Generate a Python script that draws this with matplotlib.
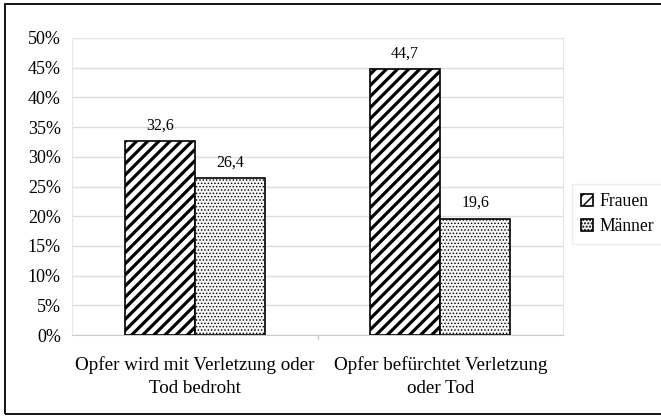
import matplotlib
matplotlib.use("Agg")
import matplotlib.pyplot as plt
import matplotlib.patches as mpatches
import numpy as np

categories = ["Opfer wird mit Verletzung oder\nTod bedroht", "Opfer befürchtet Verletzung\noder Tod"]
series_names = ["Frauen", "Männer"]
frauen = [32.6, 44.7]
maenner = [26.4, 19.6]
yticks = [0, 5, 10, 15, 20, 25, 30, 35, 40, 45, 50]

plt.rcParams['font.family'] = ['Liberation Serif', 'DejaVu Serif']
plt.rcParams['font.size'] = 12

fig = plt.figure(figsize=(6.61, 4.18), dpi=100)
fig.patches.append(mpatches.Rectangle((5/661, 4/418), 1.2, 1 - 8/418, transform=fig.transFigure,
                                      fill=False, edgecolor='black', linewidth=1.3))
ax = fig.add_axes([72/661, 83/418, 491/661, 297/418])

x = np.arange(len(categories))
bw = 1 / 3.5
with plt.rc_context({'hatch.linewidth': 2.3}):
    b1 = ax.bar(x - bw/2, frauen, bw, facecolor='white', edgecolor='black', hatch='///', linewidth=1.2,
                label=series_names[0], zorder=3)
with plt.rc_context({'hatch.linewidth': 0.6}):
    b2 = ax.bar(x + bw/2, maenner, bw, facecolor='#f4f4f4', edgecolor='black', hatch='.....', linewidth=1.2,
                label=series_names[1], zorder=3)
for bars, hl in ((b1, 2.3), (b2, 0.6)):
    for r in bars:
        try:
            r.set_hatch_linewidth(hl)
        except Exception:
            pass

for bars, vals in ((b1, frauen), (b2, maenner)):
    for r, v in zip(bars, vals):
        ax.text(r.get_x() + r.get_width()/2, v + 1.3, f"{v:.1f}".replace('.', ','),
                ha='center', va='bottom', fontsize=11.5)

ax.set_xlim(-0.5, 1.5)
ax.set_ylim(0, 50)
ax.set_yticks(yticks)
ax.set_yticklabels([f"{t}%" for t in yticks], fontsize=13)
ax.set_xticks(x)
ax.set_xticklabels(categories, fontsize=13.7, linespacing=1.45)
ax.tick_params(axis='x', length=0, pad=15)
ax.tick_params(axis='y', length=0, pad=8)
ax.grid(axis='y', color='#dddddd', linewidth=1, zorder=0)
for s in ax.spines.values():
    s.set_color('#e6e6e6')
ax.spines['bottom'].set_color('#cccccc')
ax.axvline(0.5, ymin=-0.015, ymax=0, color='#cccccc', linewidth=1, clip_on=False)

leg = fig.legend(handles=[b1, b2], labels=series_names, loc='center left',
                 bbox_to_anchor=(572/661, 204/418), frameon=True, fancybox=False,
                 edgecolor='#e6e6e6', handlelength=0.7, handleheight=0.7, handletextpad=0.35,
                 borderpad=0.5, labelspacing=0.45, fontsize=12.7, borderaxespad=0)
leg.get_frame().set_linewidth(1)

fig.savefig("out.png", dpi=100)
